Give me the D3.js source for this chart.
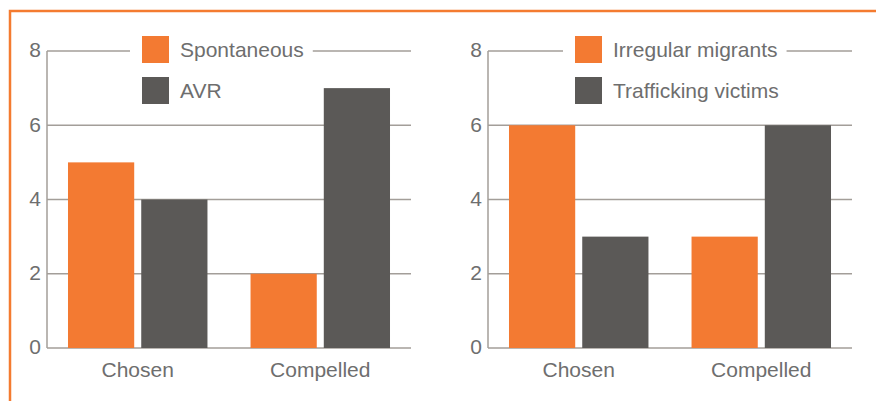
<!DOCTYPE html>
<html>
<head>
<meta charset="utf-8">
<script src="https://cdn.jsdelivr.net/npm/d3@7"></script>
<style>
  html, body { margin: 0; padding: 0; background: #fff; }
  svg { display: block; }
  text { font-family: "Liberation Sans", Arial, sans-serif; fill: #6e6e6e; }
</style>
</head>
<body>
<div id="chart"></div>
<script>
// ---- data ----
const categories = ["Chosen", "Compelled"];
const yTicks = [0, 2, 4, 6, 8];

const leftSeries = ["Spontaneous", "AVR"];
const spontaneous = [5, 2];
const avr = [4, 7];

const rightSeries = ["Irregular migrants", "Trafficking victims"];
const irregularMigrants = [6, 3];
const traffickingVictims = [3, 6];

const seriesColours = ["#f37a32", "#5b5957"];

const panels = [
  { series: leftSeries, values: [spontaneous, avr], x0: 47, legendDx: 95 },
  { series: rightSeries, values: [irregularMigrants, traffickingVictims], x0: 488, legendDx: 87 }
];

const width = 876, height = 401;
const plotW = 364, plotTop = 51, plotBottom = 348;
const lineColour = "#a39e99";
const fontSize = "21px";

let svg = d3.select("#chart").append("svg")
  .attr("width", width)
  .attr("height", height);

// orange frame, top and left edges only
svg.append("path")
  .attr("d", `M${width},11 H10 V${height}`)
  .attr("fill", "none")
  .attr("stroke", "#f47b30")
  .attr("stroke-width", 2.5);

let y = d3.scaleLinear().domain([0, 8]).range([plotBottom, plotTop]);

panels.forEach(function (p) {
  let g = svg.append("g").attr("transform", `translate(${p.x0},0)`);

  let x0 = d3.scaleBand()
    .domain(categories)
    .range([0, plotW])
    .paddingInner(0.236)
    .paddingOuter(0.115);

  let x1 = d3.scaleBand()
    .domain(p.series)
    .range([0, x0.bandwidth()])
    .paddingInner(0.096);

  // gridlines
  g.selectAll(".grid")
    .data(yTicks)
    .enter().append("line")
    .attr("class", "grid")
    .attr("x1", 0)
    .attr("x2", plotW)
    .attr("y1", d => y(d))
    .attr("y2", d => y(d))
    .attr("stroke", lineColour)
    .attr("stroke-width", 1.5);

  // y axis line
  g.append("line")
    .attr("x1", 0).attr("x2", 0)
    .attr("y1", y(8)).attr("y2", y(0))
    .attr("stroke", lineColour)
    .attr("stroke-width", 1.5);

  // tick labels
  g.selectAll(".ytick")
    .data(yTicks)
    .enter().append("text")
    .attr("class", "ytick")
    .attr("x", -6)
    .attr("y", d => y(d))
    .attr("dy", "0.3em")
    .attr("text-anchor", "end")
    .attr("font-size", fontSize)
    .text(d => d);

  // bars
  categories.forEach(function (c, ci) {
    g.selectAll(null)
      .data(p.series.map((s, si) => ({ s: s, si: si, v: p.values[si][ci] })))
      .enter().append("rect")
      .attr("x", d => x0(c) + x1(d.s))
      .attr("y", d => y(d.v))
      .attr("width", x1.bandwidth())
      .attr("height", d => y(0) - y(d.v))
      .attr("fill", d => seriesColours[d.si]);
  });

  // category labels
  g.selectAll(".xlab")
    .data(categories)
    .enter().append("text")
    .attr("class", "xlab")
    .attr("x", d => x0(d) + x0.bandwidth() / 2)
    .attr("y", 377)
    .attr("text-anchor", "middle")
    .attr("font-size", fontSize)
    .text(d => d);

  // legend, with a white box that cuts the top gridline
  let leg = g.append("g").attr("transform", `translate(${p.legendDx},36)`);
  let bg = leg.append("rect")
    .attr("x", -12)
    .attr("y", 10)
    .attr("height", 10)
    .attr("fill", "#fff");

  let items = leg.selectAll(".leg")
    .data(p.series)
    .enter().append("g")
    .attr("class", "leg")
    .attr("transform", (d, i) => `translate(0,${i * 41})`);

  items.append("rect")
    .attr("width", 27)
    .attr("height", 27)
    .attr("fill", (d, i) => seriesColours[i]);

  items.append("text")
    .attr("x", 38)
    .attr("y", 14)
    .attr("dy", "0.35em")
    .attr("font-size", fontSize)
    .text(d => d);

  let firstW = items.select("text").node().getComputedTextLength();
  bg.attr("width", 12 + 38 + firstW + 9);
});
</script>
</body>
</html>
